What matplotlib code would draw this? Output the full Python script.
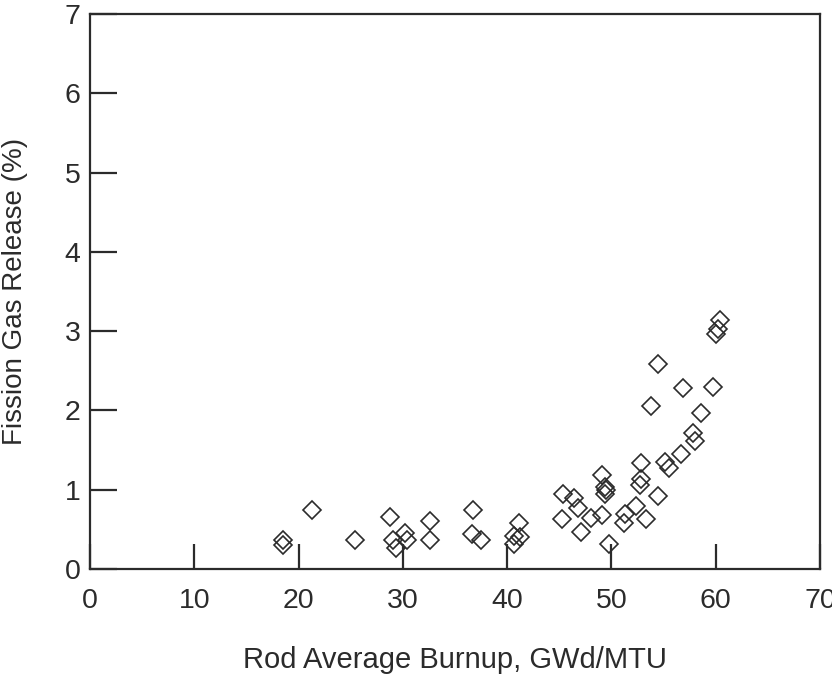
import matplotlib.pyplot as plt
import numpy as np

# rod average burnup (GWd/MTU) and fission gas release (%)
burnup = [18.5, 18.5, 21.3, 25.4, 28.8, 29.1, 29.3, 30.2, 30.4,
          32.6, 32.6, 36.7, 36.6, 37.5,
          41.1, 40.7, 41.2, 40.7,
          45.4, 46.4, 46.8, 45.3, 47.1, 48.0, 49.1, 49.1, 49.4, 49.5, 49.4, 49.8,
          51.3, 51.2, 52.4, 53.3, 52.8, 52.8, 52.7, 54.5, 53.8, 54.5,
          55.1, 55.5, 56.7, 56.9, 57.8, 58.0, 58.6, 59.7, 60.0, 60.2, 60.4]
fgr = [0.37, 0.30, 0.74, 0.37, 0.65, 0.37, 0.26, 0.45, 0.37,
       0.61, 0.37, 0.74, 0.44, 0.37,
       0.58, 0.42, 0.40, 0.32,
       0.95, 0.90, 0.77, 0.63, 0.47, 0.64, 0.68, 1.18, 1.04, 1.00, 0.95, 0.32,
       0.70, 0.58, 0.79, 0.63, 1.34, 1.14, 1.06, 0.92, 2.06, 2.58,
       1.35, 1.27, 1.45, 2.28, 1.72, 1.62, 1.97, 2.29, 2.96, 3.03, 3.14]

xticks = np.arange(0, 71, 10)
yticks = np.arange(0, 8, 1)

ink = '#2b2b2b'
plt.rcParams['font.family'] = ['Liberation Sans', 'DejaVu Sans']

fig = plt.figure(figsize=(8.32, 6.75), dpi=100)
ax = fig.add_axes([90 / 832, 1 - 569 / 675, 730 / 832, 555 / 675])

ax.plot(burnup, fgr, linestyle='none', marker='D', markersize=9.2,
        markerfacecolor='none', markeredgecolor=ink, markeredgewidth=1.2)

ax.set_xlim(0, 70)
ax.set_ylim(0, 7)
ax.set_xticks(xticks)
ax.set_yticks(yticks)

for s in ax.spines.values():
    s.set_color(ink)
    s.set_linewidth(1.6)

ax.tick_params(axis='x', direction='in', length=18, width=1.6, color=ink,
               labelsize=20.5, labelcolor=ink, pad=13.5)
ax.tick_params(axis='y', direction='in', length=19.5, width=1.6, color=ink,
               labelsize=20.5, labelcolor=ink, pad=7)

ax.set_xlabel('Rod Average Burnup, GWd/MTU', fontsize=21, color=ink)
ax.set_ylabel('Fission Gas Release (%)', fontsize=20, color=ink)
ax.xaxis.set_label_coords(0.5, (569 - 646) / 555)
ax.yaxis.set_label_coords((28 - 90) / 730, 0.5)

fig.savefig('out.png', dpi=100)
